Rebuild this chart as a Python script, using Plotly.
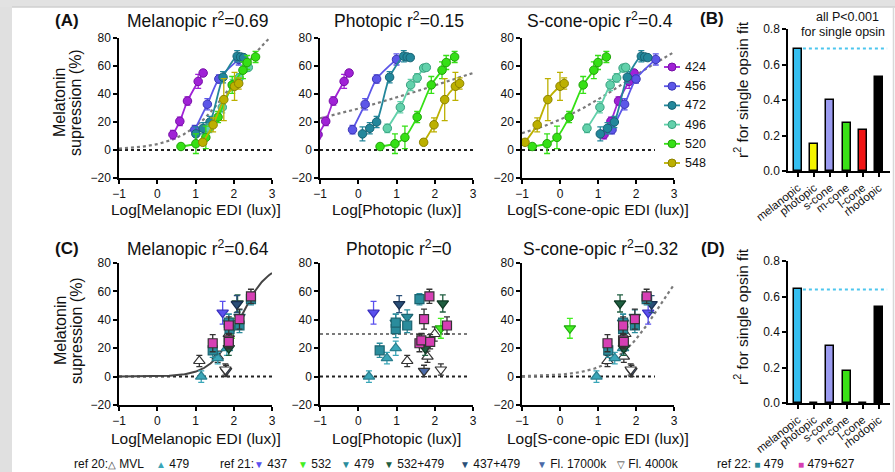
import numpy as np
import plotly.graph_objects as go

W, H = 895, 472
FONT = "Liberation Sans, Arial, Helvetica, sans-serif"


def fx(p):
    return p / W


def fy(p):
    return 1 - p / H


# ---------------- (A) monochromatic light: six wavelengths ----------------
WAVELENGTHS = ["424", "456", "472", "496", "520", "548"]
WL_FILL = {"424": "#a021d6", "456": "#5c56e8", "472": "#23879b",
           "496": "#62d1ab", "520": "#35e015", "548": "#bcb000"}
WL_EDGE = {"424": "#7610a6", "456": "#3b35b4", "472": "#166272",
           "496": "#38a07f", "520": "#22a20a", "548": "#8c8200"}

SUPPRESSION_A = {
    "424": [11, 20.5, 35, 49, 55],
    "456": [14.5, 32.7, 50.7, 64.7],
    "472": [11.5, 15.5, 20, 52, 67, 66.5, 66],
    "496": [15.5, 30.5, 46.5, 51.5, 58.5, 59],
    "520": [2.5, 4.5, 9, 23.5, 46.5, 57, 62.5, 66.5],
    "548": [5.5, 18, 36, 45.5, 47.5],
}
SEM_A = {
    "424": [3, 3, 3, 5, 2],
    "456": [3, 4, 3, 4],
    "472": [5, 4, 4, 4, 4, 2, 2],
    "496": [3, 4, 4, 3, 2, 2],
    "520": [2, 7, 8, 4, 6, 6, 5, 4],
    "548": [2, 5, 15, 10, 4],
}
LOG_MEL_A = {
    "424": [0.41, 0.59, 0.79, 1.07, 1.20],
    "456": [0.98, 1.31, 1.61, 2.13],
    "472": [1.01, 1.20, 1.38, 1.72, 2.09, 2.18, 2.26],
    "496": [1.36, 1.70, 1.97, 2.14, 2.31, 2.38],
    "520": [0.62, 1.01, 1.27, 1.59, 1.96, 2.24, 2.35, 2.57],
    "548": [1.19, 1.46, 1.74, 2.02, 2.13],
}
LOG_PHOT_A = {
    "424": [-1.05, -0.85, -0.65, -0.37, -0.24],
    "456": [-0.15, 0.18, 0.48, 1.00],
    "472": [0.11, 0.30, 0.48, 0.82, 1.19, 1.28, 1.36],
    "496": [0.76, 1.10, 1.37, 1.54, 1.71, 1.78],
    "520": [0.57, 0.96, 1.22, 1.54, 1.91, 2.19, 2.30, 2.52],
    "548": [1.71, 1.98, 2.26, 2.54, 2.65],
}
LOG_SCONE_A = {
    "424": [1.16, 1.34, 1.54, 1.82, 1.95],
    "456": [1.37, 1.70, 2.00, 2.52],
    "472": [1.06, 1.25, 1.43, 1.77, 2.14, 2.23, 2.31],
    "496": [0.71, 1.05, 1.32, 1.49, 1.66, 1.73],
    "520": [-0.73, -0.34, -0.08, 0.24, 0.61, 0.89, 1.00, 1.22],
    "548": [-0.92, -0.60, -0.32, 0.00, 0.11],
}

# single-opsin sigmoid fits: (top, log EC50, Hill slope)
FIT_A = [(100, 2.04, 0.668), (100, 2.44, 0.155), (100, 1.81, 0.308)]
FIT_C_MEL = (80, 2.142, 1.179)
FIT_C_SCONE = (100, 2.63, 0.71)
MEAN_C_PHOT = 30

# ---------------- (B)/(D) goodness of fit per opsin ----------------
OPSINS = ["melanopic", "photopic", "s-cone", "m-cone", "l-cone", "rhodopic"]
OPSIN_COLORS = ["#35bff0", "#f5f500", "#9b9bf0", "#3ae016", "#f01414", "#000000"]
R2_B = [0.69, 0.15, 0.40, 0.27, 0.23, 0.53]
R2_D = [0.64, 0, 0.32, 0.18, 0, 0.54]

# ---------------- (C) polychromatic / literature data ----------------
C_GROUPS = ["r20 MVL", "r20 479", "r21 437", "r21 532", "r21 479", "r21 532+479",
            "r21 437+479", "r21 Fl17000k", "r21 Fl4000k", "r22 479", "r22 479+627"]
C_STYLE = {  # symbol, fill, edge
    "r20 MVL": ("triangle-up", "#ffffff", "#333333"),
    "r20 479": ("triangle-up", "#3aa6b8", "#2a7f8e"),
    "r21 437": ("triangle-down", "#5a50ee", "#3a30c0"),
    "r21 532": ("triangle-down", "#44ee22", "#22aa11"),
    "r21 479": ("triangle-down", "#2a8c9c", "#1c6470"),
    "r21 532+479": ("triangle-down", "#1f5e40", "#0f3a25"),
    "r21 437+479": ("triangle-down", "#2a4f78", "#1a3050"),
    "r21 Fl17000k": ("triangle-down", "#4a6aa8", "#333333"),
    "r21 Fl4000k": ("triangle-down", "#ffffff", "#333333"),
    "r22 479": ("square", "#2a8c9c", "#1c6470"),
    "r22 479+627": ("square", "#d63fb4", "#333333"),
}
SUPPRESSION_C = {
    "r20 MVL": [11, 14, 30],
    "r20 479": [0, 13, 20],
    "r21 437": [45],
    "r21 532": [34],
    "r21 479": [42, 38],
    "r21 532+479": [51.5, 20],
    "r21 437+479": [51],
    "r21 Fl17000k": [4],
    "r21 Fl4000k": [5],
    "r22 479": [18.5, 33.5, 36, 38, 54.5],
    "r22 479+627": [23.5, 25.5, 24.5, 36, 40.5, 56.5],
}
SEM_C = {
    "r20 MVL": [4, 4, 5],
    "r20 479": [4, 4, 5],
    "r21 437": [8],
    "r21 532": [7],
    "r21 479": [5, 6],
    "r21 532+479": [6, 5],
    "r21 437+479": [6],
    "r21 Fl17000k": [4],
    "r21 Fl4000k": [4],
    "r22 479": [5, 6, 5, 6, 4],
    "r22 479+627": [6, 5, 5, 6, 7, 5],
}
LOG_MEL_C = {
    "r20 MVL": [1.10, 1.58, 1.87],
    "r20 479": [1.15, 1.58, 1.82],
    "r21 437": [1.71],
    "r21 532": [1.95],
    "r21 479": [2.15, 1.87],
    "r21 532+479": [2.10, 1.87],
    "r21 437+479": [2.08],
    "r21 Fl17000k": [1.80],
    "r21 Fl4000k": [1.78],
    "r22 479": [1.45, 1.89, 2.15, 1.87, 2.45],
    "r22 479+627": [1.45, 1.87, 1.87, 1.87, 2.15, 2.45],
}
LOG_PHOT_C = {
    "r20 MVL": [1.28, 1.81, 2.00],
    "r20 479": [0.28, 0.75, 0.98],
    "r21 437": [0.40],
    "r21 532": [2.16],
    "r21 479": [1.28, 0.98],
    "r21 532+479": [2.21, 1.75],
    "r21 437+479": [1.07],
    "r21 Fl17000k": [1.72],
    "r21 Fl4000k": [2.16],
    "r22 479": [0.56, 0.98, 1.28, 0.98, 1.60],
    "r22 479+627": [1.60, 1.65, 1.88, 2.32, 1.72, 1.86],
}
LOG_SCONE_C = {
    "r20 MVL": [1.25, 1.68, 1.72],
    "r20 479": [0.96, 1.44, 1.66],
    "r21 437": [2.32],
    "r21 532": [0.26],
    "r21 479": [1.97, 1.66],
    "r21 532+479": [1.58, 1.68],
    "r21 437+479": [2.41],
    "r21 Fl17000k": [1.88],
    "r21 Fl4000k": [1.86],
    "r22 479": [1.27, 1.66, 1.97, 1.66, 2.28],
    "r22 479+627": [1.25, 1.66, 1.68, 1.66, 1.97, 2.28],
}

# bottom key: (left edge px, prefix, glyph, glyph colour, label)
KEY_ITEMS = [
    (72, "ref 20:", "△", "#333333", "MVL"),
    (154, "", "▲", "#3aa6b8", "479"),
    (218, "ref 21:", "▼", "#5a50ee", "437"),
    (296, "", "▼", "#44ee22", "532"),
    (339, "", "▼", "#2a8c9c", "479"),
    (382, "", "▼", "#1f5e40", "532+479"),
    (458, "", "▼", "#2a4f78", "437+479"),
    (535, "", "▼", "#4a6aa8", "Fl. 17000k"),
    (615, "", "▽", "#333333", "Fl. 4000k"),
    (715, "ref 22: ", "■", "#2a8c9c", "479"),
    (796, "", "■", "#d63fb4", "479+627"),
]

# ---------------- layout geometry (pixels) ----------------
PANELS = {
    1: ((119, 272), (38, 178)),
    2: ((320, 473), (38, 178)),
    3: ((522, 674), (38, 178)),
    4: ((788, 890), (29, 171)),
    5: ((119, 272), (263, 405)),
    6: ((320, 473), (263, 405)),
    7: ((522, 674), (263, 405)),
    8: ((788, 890), (261, 403)),
}
ZERO_SPAN = {1: 3, 2: 3, 3: 2.5, 5: 3, 6: 2.85, 7: 2.5}


def refs(i):
    return ("x" if i == 1 else f"x{i}", "y" if i == 1 else f"y{i}")


def sigmoid(x, top, ec50, hill):
    return top / (1 + 10 ** ((ec50 - x) * hill))


AXIS = dict(showline=True, linecolor="black", linewidth=1.5, ticks="outside",
            ticklen=4, tickwidth=1.5, tickcolor="black", showgrid=False,
            zeroline=False, fixedrange=True, automargin=False,
            tickfont=dict(family=FONT, size=12, color="#111111"))

fig = go.Figure()
layout = {}
for i, ((x0, x1), (y0, y1)) in PANELS.items():
    xr, yr = refs(i)
    xa = dict(AXIS, domain=[fx(x0), fx(x1)], anchor=yr)
    ya = dict(AXIS, domain=[fy(y1), fy(y0)], anchor=xr)
    if i in (4, 8):
        xa.update(range=[-0.62, 5.68], tickvals=list(range(6)), ticktext=OPSINS,
                  tickangle=-38, tickfont=dict(family=FONT, size=11.5, color="#111111"))
        ya.update(range=[0, 0.8], tickvals=[0, 0.2, 0.4, 0.6, 0.8], tickformat=".1f")
    else:
        xa.update(range=[-1, 3], tickvals=[-1, 0, 1, 2, 3])
        ya.update(range=[-20, 80], tickvals=[-20, 0, 20, 40, 60, 80])
    layout["xaxis" if i == 1 else f"xaxis{i}"] = xa
    layout["yaxis" if i == 1 else f"yaxis{i}"] = ya

xx = np.linspace(-1, 3, 200)


def zero_line(i):
    xr, yr = refs(i)
    fig.add_trace(go.Scatter(x=[-1, ZERO_SPAN[i]], y=[0, 0], mode="lines", xaxis=xr, yaxis=yr,
                             line=dict(color="#222222", width=2, dash="dot"),
                             hoverinfo="skip", showlegend=False))


# ---- row A ----
for k, xs_by_wl in enumerate([LOG_MEL_A, LOG_PHOT_A, LOG_SCONE_A]):
    i = k + 1
    xr, yr = refs(i)
    zero_line(i)
    fig.add_trace(go.Scatter(x=xx, y=sigmoid(xx, *FIT_A[k]), mode="lines", xaxis=xr, yaxis=yr,
                             line=dict(color="#7a7a7a", width=2.2, dash="dot"),
                             hoverinfo="skip", showlegend=False))
    for wl in WAVELENGTHS:
        fig.add_trace(go.Scatter(
            x=xs_by_wl[wl], y=SUPPRESSION_A[wl], mode="lines+markers", xaxis=xr, yaxis=yr,
            line=dict(color=WL_FILL[wl], width=1.8, shape="spline", smoothing=0.8),
            marker=dict(size=8.5, color=WL_FILL[wl], line=dict(color=WL_EDGE[wl], width=1)),
            error_y=dict(type="data", array=SEM_A[wl], color=WL_FILL[wl], thickness=1.3, width=3),
            showlegend=False, name=wl))

# ---- row C ----
for k, xs_by_grp in enumerate([LOG_MEL_C, LOG_PHOT_C, LOG_SCONE_C]):
    i = k + 5
    xr, yr = refs(i)
    zero_line(i)
    if k == 0:
        fig.add_trace(go.Scatter(x=xx, y=sigmoid(xx, *FIT_C_MEL), mode="lines", xaxis=xr, yaxis=yr,
                                 line=dict(color="#444444", width=2), hoverinfo="skip", showlegend=False))
    elif k == 1:
        fig.add_trace(go.Scatter(x=[-1, ZERO_SPAN[i]], y=[MEAN_C_PHOT, MEAN_C_PHOT], mode="lines",
                                 xaxis=xr, yaxis=yr, line=dict(color="#7a7a7a", width=2, dash="dot"),
                                 hoverinfo="skip", showlegend=False))
    else:
        fig.add_trace(go.Scatter(x=xx, y=sigmoid(xx, *FIT_C_SCONE), mode="lines", xaxis=xr, yaxis=yr,
                                 line=dict(color="#7a7a7a", width=2.2, dash="dot"),
                                 hoverinfo="skip", showlegend=False))
    for g in C_GROUPS:
        sym, fill, edge = C_STYLE[g]
        err_col = edge if (fill == "#ffffff" or edge == "#333333") else fill
        fig.add_trace(go.Scatter(
            x=xs_by_grp[g], y=SUPPRESSION_C[g], mode="markers", xaxis=xr, yaxis=yr,
            marker=dict(symbol=sym, size=9 if sym == "square" else 10, color=fill,
                        line=dict(color=edge, width=1.2)),
            error_y=dict(type="data", array=SEM_C[g], color=err_col, thickness=1.3, width=3),
            showlegend=False, name=g))

# ---- bar panels B and D ----
for i, vals in ((4, R2_B), (8, R2_D)):
    xr, yr = refs(i)
    fig.add_trace(go.Bar(x=list(range(6)), y=vals, width=0.5, xaxis=xr, yaxis=yr,
                         marker=dict(color=OPSIN_COLORS, line=dict(color="black", width=1.5)),
                         showlegend=False))
    fig.add_trace(go.Scatter(x=[0.3, 5.5], y=[vals[0], vals[0]], mode="lines", xaxis=xr, yaxis=yr,
                             line=dict(color="#4cc6ee", width=2, dash="dot"),
                             hoverinfo="skip", showlegend=False))

# ---- text ----
ann = []


def text(x, y, s, size, bold=False, color="#111111", angle=0, xanchor="center"):
    ann.append(dict(x=fx(x), y=fy(y), xref="paper", yref="paper", text=f"<b>{s}</b>" if bold else s,
                    showarrow=False, textangle=angle, xanchor=xanchor, yanchor="middle",
                    font=dict(family=FONT, size=size, color=color)))


metric_names = ["Melanopic", "Photopic", "S-cone-opic"]
x_titles = ["Log[Melanopic EDI (lux)]", "Log[Photopic (lux)]", "Log[S-cone-opic EDI (lux)]"]
r2_rows = [(R2_B[0], R2_B[1], R2_B[2]), (R2_D[0], R2_D[1], R2_D[2])]
for row, (title_y, xtitle_y, panels) in enumerate([(20, 209, (1, 2, 3)), (248, 438, (5, 6, 7))]):
    for k, i in enumerate(panels):
        (x0, x1), _ = PANELS[i]
        cx = (x0 + x1) / 2
        text(cx + 2, title_y, f"{metric_names[k]} r<sup>2</sup>={r2_rows[row][k]:g}", 17.5)
        text(cx, xtitle_y, x_titles[k], 15.5)

text(67, 20, "(A)", 17, bold=True)
text(67, 248, "(C)", 17, bold=True)
text(712, 18, "(B)", 17, bold=True)
text(713, 248, "(D)", 17, bold=True)

for cy in (103, 331):
    text(60, cy, "Melatonin", 16, angle=-90)
    text(76, cy, "supression (%)", 16, angle=-90)
for cy in (90, 317):
    text(741, cy, "r<sup>2</sup> for single opsin fit", 15.5, angle=-90)

text(847, 17, "all P&lt;0.001", 12.5)
text(843, 32, "for single opsin", 12.5)

# wavelength key in the S-cone panel
shapes = []
for n, wl in enumerate(WAVELENGTHS):
    y = 67 + n * 19.2
    shapes.append(dict(type="line", xref="paper", yref="paper", x0=fx(664), x1=fx(680),
                       y0=fy(y), y1=fy(y), line=dict(color=WL_FILL[wl], width=1.8)))
    shapes.append(dict(type="circle", xref="paper", yref="paper", x0=fx(668), x1=fx(676),
                       y0=fy(y + 4), y1=fy(y - 4), fillcolor=WL_FILL[wl],
                       line=dict(color=WL_EDGE[wl], width=1)))
    text(683, y, wl, 12.5, xanchor="left")

# literature key along the bottom
for x, prefix, glyph, col, label in KEY_ITEMS:
    text(x, 464, f"{prefix}<span style='color:{col};font-size:10px'>{glyph}</span> {label}", 12,
         xanchor="left")

# window frame strips
shapes += [
    dict(type="rect", xref="paper", yref="paper", x0=0, x1=fx(12), y0=0, y1=1,
         fillcolor="#e0e0e0", line=dict(width=0), layer="below"),
    dict(type="rect", xref="paper", yref="paper", x0=0, x1=1, y0=fy(7), y1=1,
         fillcolor="#e2e2e2", line=dict(width=0), layer="below"),
    dict(type="line", xref="paper", yref="paper", x0=fx(12), x1=1, y0=fy(7), y1=fy(7),
         line=dict(color="#cfcfcf", width=1.5)),
    dict(type="line", xref="paper", yref="paper", x0=fx(893.5), x1=fx(893.5), y0=0, y1=fy(7),
         line=dict(color="#d8d8d8", width=1.5)),
]

fig.update_layout(
    **layout,
    width=W, height=H, margin=dict(l=0, r=0, t=0, b=0, pad=0, autoexpand=False),
    paper_bgcolor="white", plot_bgcolor="rgba(0,0,0,0)",
    annotations=ann, shapes=shapes, showlegend=False, bargap=0,
    font=dict(family=FONT, color="#111111"),
)

fig.write_html("out.html")
